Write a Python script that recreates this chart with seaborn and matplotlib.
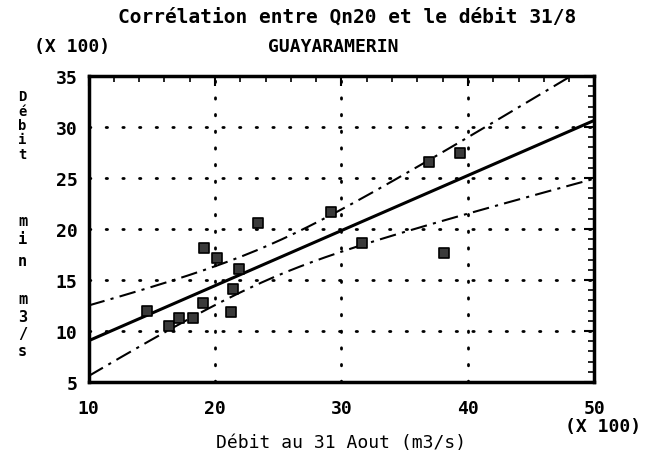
import numpy as np
import pandas as pd
import matplotlib
matplotlib.use("Agg")
import matplotlib.pyplot as plt
import seaborn as sns
from matplotlib.ticker import MultipleLocator

# ==========================================
# DATA (x 100 m3/s)
# ==========================================

debit_31_aout = [14.6, 16.4, 17.15, 18.25, 19.05, 19.15, 20.15, 21.3,
                 21.4, 21.9, 23.4, 29.2, 31.65, 36.9, 38.1, 39.4]
debit_min_qn20 = [12.0, 10.45, 11.3, 11.3, 12.75, 18.1, 17.15, 11.85,
                  14.15, 16.1, 20.6, 21.7, 18.65, 26.6, 17.65, 27.5]

x_ticks = [10, 20, 30, 40, 50]
y_ticks = [5, 10, 15, 20, 25, 30, 35]

df = pd.DataFrame({"x": debit_31_aout, "y": debit_min_qn20})

# ==========================================
# REGRESSION + 95% CONFIDENCE BAND
# ==========================================

x = df["x"].to_numpy()
y = df["y"].to_numpy()
n = len(x)
slope, intercept = np.polyfit(x, y, 1)
resid = y - (slope * x + intercept)
s = np.sqrt(np.sum(resid ** 2) / (n - 2))
t_val = 2.145  # t(0.975, 14)
sxx = np.sum((x - x.mean()) ** 2)

grid_x = np.linspace(10, 50, 200)
fit_y = slope * grid_x + intercept
half = t_val * s * np.sqrt(1 / n + (grid_x - x.mean()) ** 2 / sxx)
band = pd.DataFrame({"x": grid_x, "fit": fit_y,
                     "upper": fit_y + half, "lower": fit_y - half})

# ==========================================
# PLOT
# ==========================================

sns.set_style("white")
plt.rcParams["font.family"] = ["DejaVu Sans Mono", "DejaVu Sans"]
plt.rcParams["font.weight"] = "bold"
for key in ["text.color", "axes.labelcolor", "xtick.color", "ytick.color"]:
    plt.rcParams[key] = "black"

fig = plt.figure(figsize=(6.48, 4.6), dpi=100)
ax = fig.add_axes([0.1366, 0.1674, 0.7808, 0.6652])

sns.lineplot(data=band, x="x", y="fit", ax=ax, color="black", linewidth=2.2)
sns.lineplot(data=band, x="x", y="upper", ax=ax, color="black",
             linewidth=1.5, linestyle=(0, (8, 3, 1.5, 3)))
sns.lineplot(data=band, x="x", y="lower", ax=ax, color="black",
             linewidth=1.5, linestyle=(0, (8, 3, 1.5, 3)))
sns.scatterplot(data=df, x="x", y="y", ax=ax, marker="s", s=55,
                color="#3a3a3a", edgecolor="black", linewidth=1.2, zorder=5)

ax.set_xlim(10, 50)
ax.set_ylim(5, 35)
ax.set_xticks(x_ticks)
ax.set_yticks(y_ticks)
ax.xaxis.set_minor_locator(MultipleLocator(2))
ax.yaxis.set_minor_locator(MultipleLocator(1))
ax.tick_params(which="major", direction="in", length=7, width=1.5,
               top=True, right=True, labelsize=13, pad=12)
ax.tick_params(which="minor", direction="in", length=4, width=1.2,
               top=True, right=True)
ax.tick_params(axis="y", which="major", pad=8)

ax.grid(True, which="major", color="black", linestyle=(0, (0.5, 5.5)),
        linewidth=2.0, dash_capstyle="round")
for sp in ax.spines.values():
    sp.set_linewidth(2.5)
    sp.set_color("black")

ax.set_xlabel("Débit au 31 Aout (m3/s)", fontsize=13, labelpad=12)
ax.set_ylabel("")

fig.text(0.536, 0.963, "Corrélation entre Qn20 et le débit 31/8",
         ha="center", va="center", fontsize=14)
fig.text(0.514, 0.898, "GUAYARAMERIN", ha="center", va="center", fontsize=13)
fig.text(0.111, 0.898, "(X 100)", ha="center", va="center", fontsize=13)
fig.text(0.93, 0.072, "(X 100)", ha="center", va="center", fontsize=13)

# vertical stacked y label, one character per row (pixel rows from top)
ylabel_chars = ["D", "é", "b", "i", "t", "m", "i", "n", "m", "3", "/", "s"]
ylabel_rows = [97, 111.5, 126, 140.5, 155, 222, 240, 261, 300, 317, 334, 351]
ylabel_size = [10, 10, 10, 10, 10, 11, 11, 11, 11, 11, 11, 11]
for ch, row, fs in zip(ylabel_chars, ylabel_rows, ylabel_size):
    fig.text(0.035, 1 - row / 460, ch, ha="center", va="center", fontsize=fs)

plt.savefig("out.png", dpi=100)
